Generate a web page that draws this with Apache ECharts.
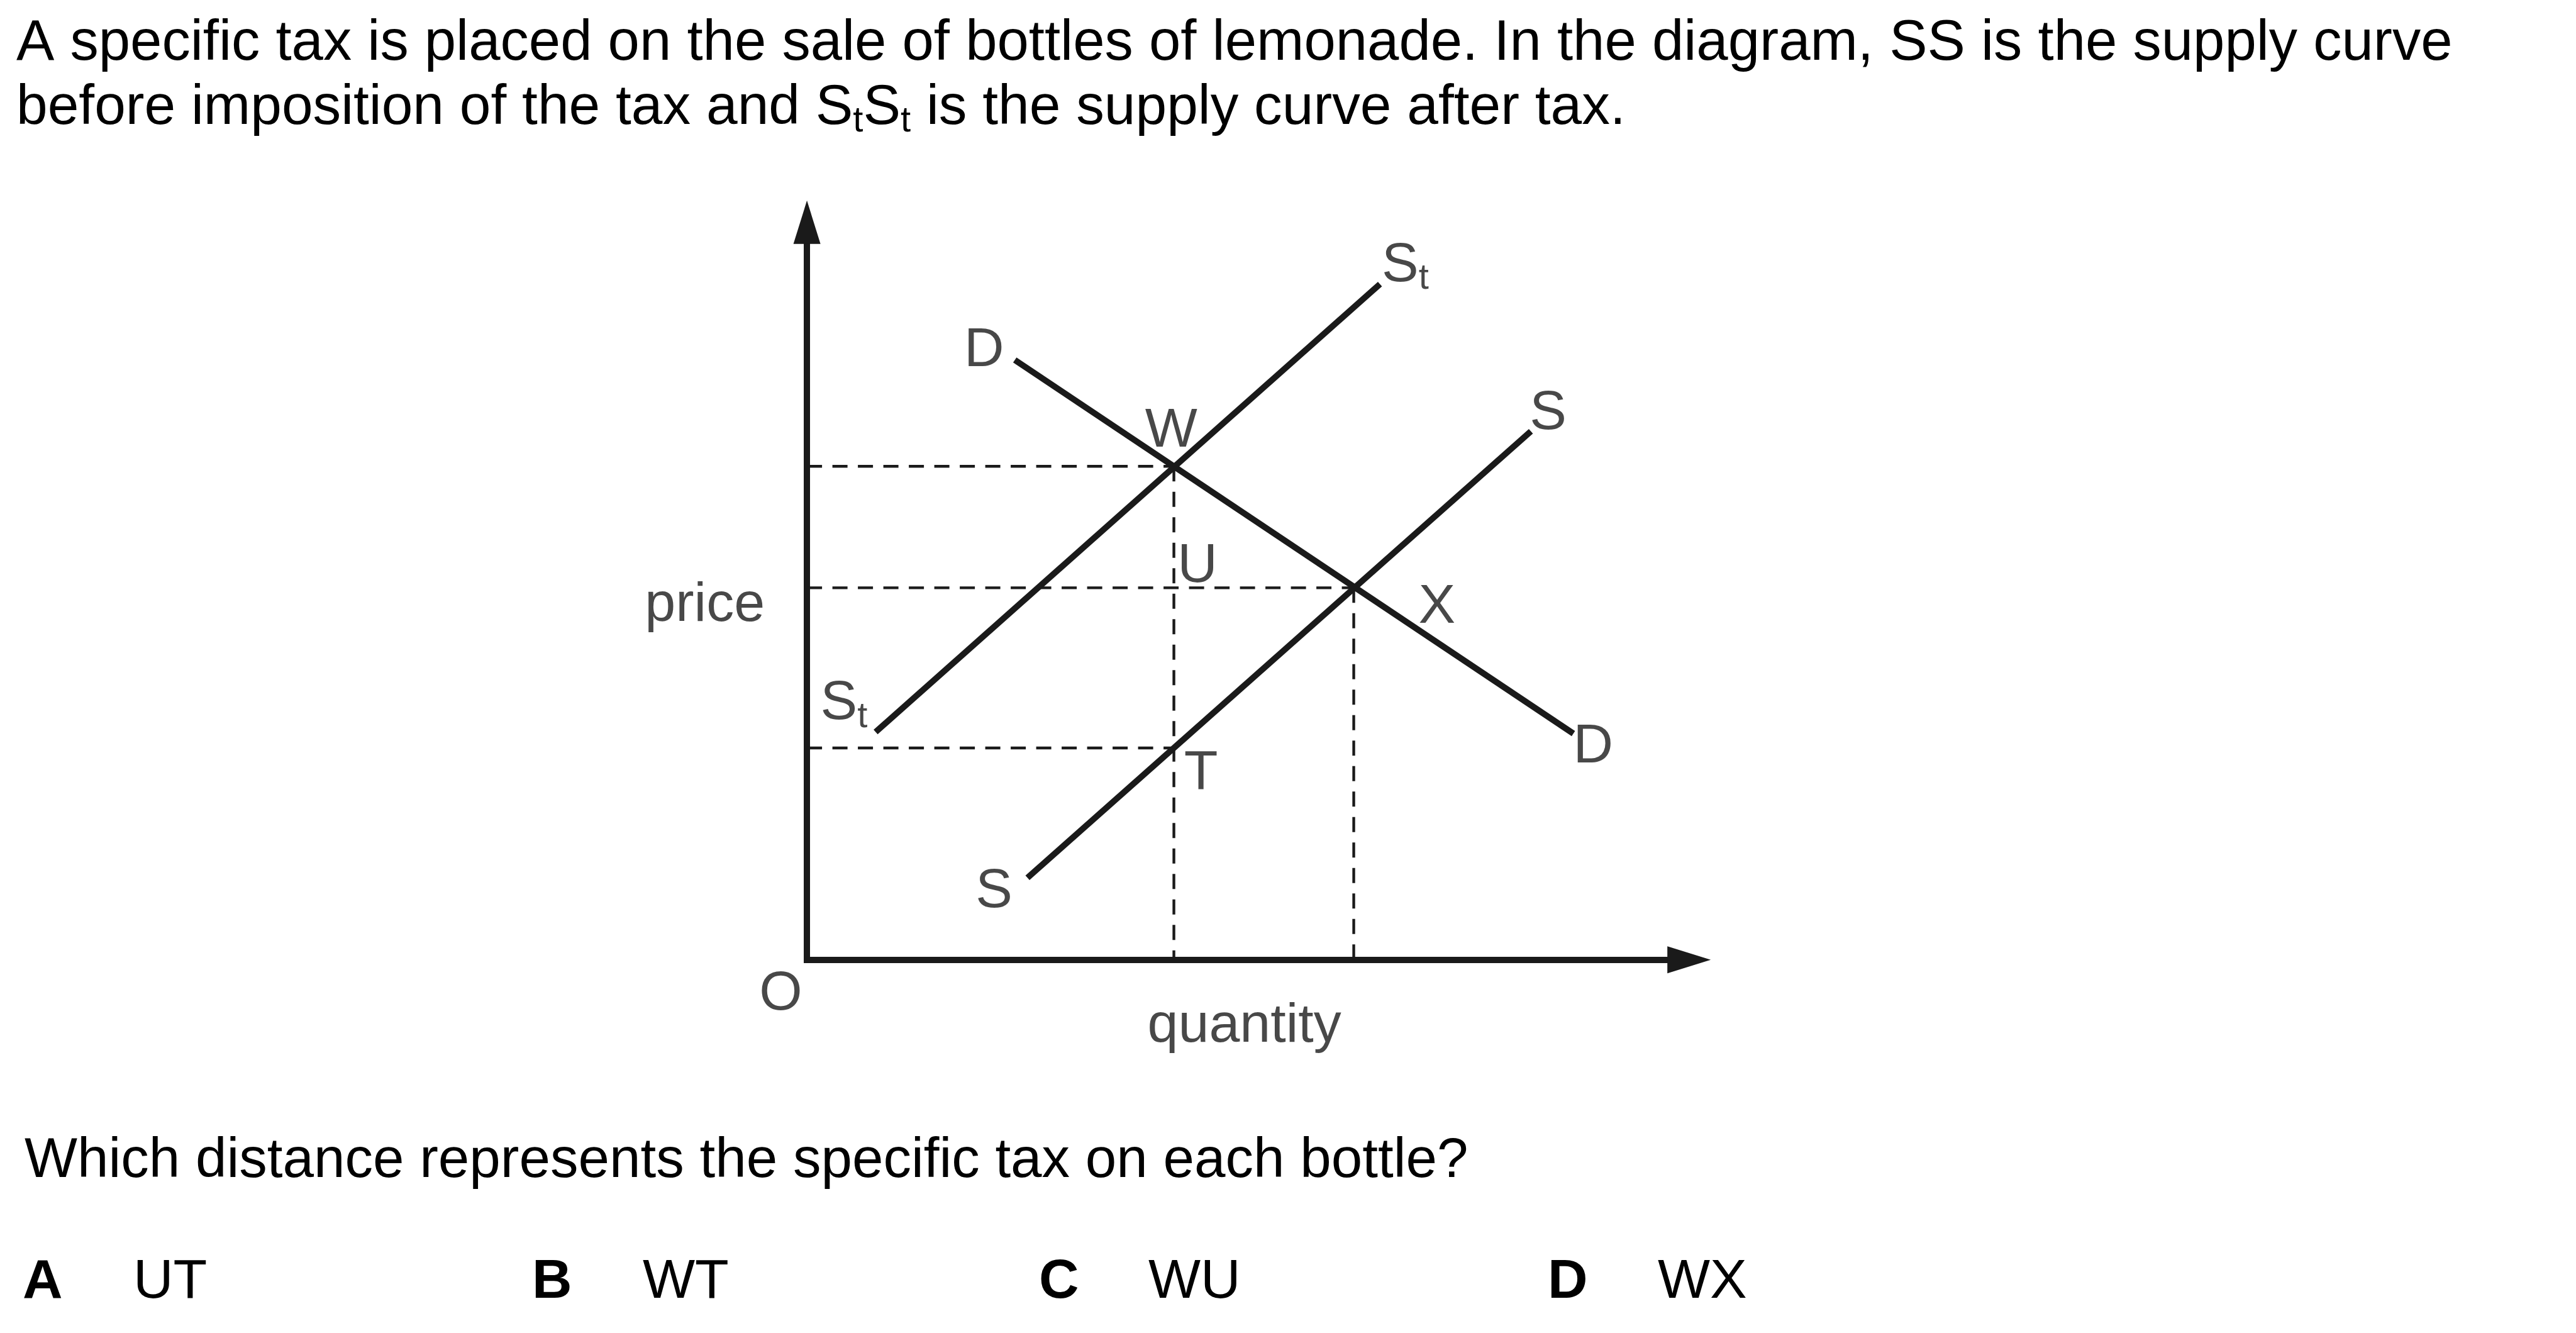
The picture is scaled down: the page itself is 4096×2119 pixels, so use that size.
<!DOCTYPE html>
<html>
<head>
<meta charset="utf-8">
<script src="https://cdn.jsdelivr.net/npm/echarts@6/dist/echarts.min.js"></script>
<style>
html,body{margin:0;padding:0;background:#ffffff;}
#chart{width:4096px;height:2119px;}
</style>
</head>
<body>
<div id="chart"></div>
<script>
// ---------- data (abstract quantity / price units) ----------
const quantityMax = 97.6;
const priceMax = 97.14;
const demandD = [[23.0, 79.0], [84.8, 29.8]];
const supplyS = [[24.4, 10.8], [80.1, 69.6]];
const supplySt = [[7.6, 30.0], [63.4, 89.0]];
const pointW = [40.6, 65.0];
const pointX = [60.5, 49.0];
const pointT = [40.6, 27.9];
const labelTexts = ['D', 'W', '{s|S}{t|t}', 'S', 'U', 'X', 'price', '{s|S}{t|t}', 'D', 'T', 'S', 'O', 'quantity'];
const labelCoords = [[19.6, 80.8], [40.3, 70.2], [66.2, 92.0], [82.0, 72.5], [43.2, 52.4], [69.7, 47.0],
                     [-11.3, 47.2], [4.1, 34.3], [87.0, 28.6], [43.6, 25.1], [20.7, 9.5], [-2.9, -4.0], [48.4, -8.2]];
const titleLine1 = 'A specific tax is placed on the sale of bottles of lemonade. In the diagram, SS is the supply curve';
const titleLine2 = '{n|before imposition of the tax and S}{t|t}{n|S}{t|t}{n| is the supply curve after tax.}';
const questionText = 'Which distance represents the specific tax on each bottle?';
const optionKeys = ['A', 'B', 'C', 'D'];
const optionAnswers = ['UT', 'WT', 'WU', 'WX'];

// ---------- chart ----------
const INK = '#1a1a1a';
const FONT = '"Liberation Sans", Arial, Helvetica, sans-serif';
const FS = 88;
const SUB = 58;
const DY = 7;

const guideLines = [
  [[0, pointW[1]], pointW],
  [pointW, [pointW[0], 0]],
  [[0, pointX[1]], pointX],
  [pointX, [pointX[0], 0]],
  [[0, pointT[1]], pointT]
];

function solidLine(name, data) {
  return {
    type: 'line', name: name, data: data, showSymbol: false, symbol: 'none',
    silent: true, clip: false, z: 3,
    lineStyle: {color: INK, width: 9.75, cap: 'butt'}
  };
}
function dashLine(data) {
  return {
    type: 'line', data: data, showSymbol: false, symbol: 'none',
    silent: true, clip: false, z: 2,
    lineStyle: {color: INK, width: 4.4, type: [24, 16.5]}
  };
}

const richLabel = {
  s: {fontSize: FS, lineHeight: 100, fontFamily: FONT, color: INK},
  t: {fontSize: SUB, lineHeight: 30, verticalAlign: 'bottom', fontFamily: FONT, color: INK}
};

const option = {
  animation: false,
  backgroundColor: '#ffffff',
  grid: {left: 1283.1, top: 353.3, width: 1402.6, height: 1172.5, containLabel: false},
  xAxis: {
    type: 'value', min: 0, max: quantityMax,
    axisLine: {show: true, onZero: false, symbol: ['none', 'triangle'], symbolSize: [43, 69],
      lineStyle: {color: INK, width: 10, cap: 'square'}},
    axisTick: {show: false}, axisLabel: {show: false}, splitLine: {show: false}
  },
  yAxis: {
    type: 'value', min: 0, max: priceMax,
    axisLine: {show: true, onZero: false, symbol: ['none', 'triangle'], symbolSize: [43, 69],
      lineStyle: {color: INK, width: 10, cap: 'square'}},
    axisTick: {show: false}, axisLabel: {show: false}, splitLine: {show: false}
  },
  series: [
    ...guideLines.map(dashLine),
    solidLine('D', demandD),
    solidLine('S', supplyS),
    solidLine('St', supplySt),
    {
      type: 'scatter', silent: true, clip: false, symbolSize: 0, z: 5,
      itemStyle: {color: 'rgba(0,0,0,0)'},
      label: {show: true, position: 'inside', align: 'center', verticalAlign: 'middle', offset: [0, DY],
        color: INK, fontSize: FS, fontFamily: FONT, rich: richLabel},
      data: labelCoords.map((c, i) => ({value: c, label: {formatter: labelTexts[i]}}))
    }
  ],
  graphic: [
    {type: 'text', x: 26, y: 63 + DY, silent: true,
      style: {text: titleLine1, fontSize: 90.5, fontFamily: FONT, fill: '#000', align: 'left', verticalAlign: 'middle'}},
    {type: 'text', x: 26, y: 165 + DY, silent: true,
      style: {text: titleLine2, align: 'left', verticalAlign: 'middle', fill: '#000',
        rich: {
          n: {fontSize: 89.3, lineHeight: 100, fontFamily: FONT, fill: '#000'},
          t: {fontSize: SUB, lineHeight: 30, verticalAlign: 'bottom', fontFamily: FONT, fill: '#000'}
        }}},
    {type: 'text', x: 39, y: 1839 + DY, silent: true,
      style: {text: questionText, fontSize: 89, fontFamily: FONT, fill: '#000', align: 'left', verticalAlign: 'middle'}},
    ...optionKeys.map((k, i) => ({type: 'text', x: [36, 846, 1652, 2461][i], y: 2032 + DY, silent: true,
      style: {text: k, fontSize: FS, fontWeight: 'bold', fontFamily: FONT, fill: '#000', align: 'left', verticalAlign: 'middle'}})),
    ...optionAnswers.map((a, i) => ({type: 'text', x: [212, 1022, 1826, 2636][i], y: 2032 + DY, silent: true,
      style: {text: a, fontSize: FS, fontFamily: FONT, fill: '#000', align: 'left', verticalAlign: 'middle'}}))
  ]
};

const chart = echarts.init(document.getElementById('chart'), null, {renderer: 'canvas', width: 4096, height: 2119});
chart.setOption(option);
</script>
</body>
</html>
